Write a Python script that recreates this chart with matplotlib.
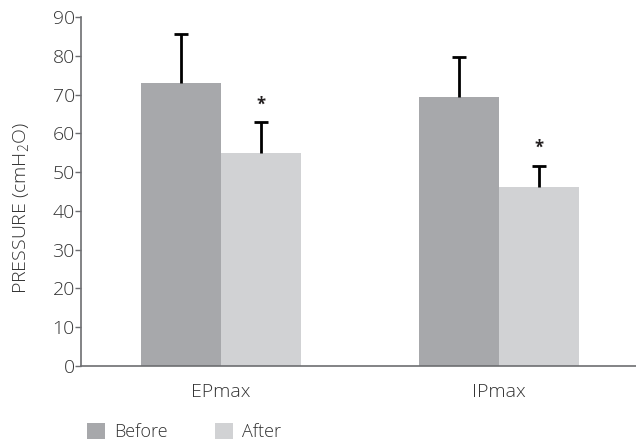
import matplotlib.pyplot as plt
import numpy as np

plt.rcParams["font.family"] = ["Open Sans", "DejaVu Sans"]
plt.rcParams["font.weight"] = "light"
plt.rcParams["mathtext.default"] = "regular"

groups = ["EPmax", "IPmax"]
before_mean = [73.0, 69.3]
before_err = [12.5, 10.4]
after_mean = [54.9, 46.2]
after_err = [7.9, 5.5]
after_signif = ["*", "*"]
y_ticks = [0, 10, 20, 30, 40, 50, 60, 70, 80, 90]

c_before = "#a7a8ab"
c_after = "#d1d2d4"
c_axis = "#6d6e71"
c_text = "#333333"

fig = plt.figure(figsize=(6.36, 4.42), dpi=100)
ax = fig.add_axes([81 / 636, 1 - 366 / 442, 1 - 81 / 636, (366 - 17) / 442])

x = np.arange(len(groups))
w = 0.288
err_kw = dict(ecolor="black", elinewidth=2, capsize=5, capthick=2)
b1 = ax.bar(x - w / 2, before_mean, w, color=c_before, label="Before",
            yerr=[[0] * len(x), before_err], error_kw=err_kw)
b2 = ax.bar(x + w / 2, after_mean, w, color=c_after, label="After",
            yerr=[[0] * len(x), after_err], error_kw=err_kw)

# only the upper half of the error bars is shown, so drop the lower caps
for bars in (b1, b2):
    caps = bars.errorbar.lines[1]
    caps[0].set_visible(False)

for xi, m, e, s in zip(x, after_mean, after_err, after_signif):
    ax.text(xi + w / 2, m + e + 4.6, s, ha="center", va="center",
            fontsize=12, color="#231f20", fontweight="bold")

ax.set_xlim(-0.5036, 1.4928)
ax.set_ylim(0, 90)
ax.set_yticks(y_ticks)
ax.set_xticks(x)
ax.set_xticklabels(groups)

for side in ["top", "right"]:
    ax.spines[side].set_visible(False)
for side in ["left", "bottom"]:
    ax.spines[side].set_color(c_axis)
    ax.spines[side].set_linewidth(1.2)

ax.tick_params(axis="y", direction="out", length=4, width=1, color=c_axis,
               pad=0.5, labelsize=14, labelcolor=c_text)
ax.tick_params(axis="x", length=0, pad=12, labelsize=14, labelcolor=c_text)

fig.text(21 / 636, 1 - 208 / 442, "PRESSURE (cmH$_2$O)", rotation=90,
         ha="center", va="center", fontsize=14, color=c_text)

fig.legend(handles=[b1, b2], labels=["Before", "After"], ncol=2,
           loc="center left", bbox_to_anchor=(87 / 636, 1 - 432 / 442),
           frameon=False, fontsize=13, handlelength=1.0, handleheight=1.0,
           handletextpad=0.5, columnspacing=2.6, borderpad=0,
           borderaxespad=0, labelcolor=c_text)

fig.savefig("out.png", dpi=100)
